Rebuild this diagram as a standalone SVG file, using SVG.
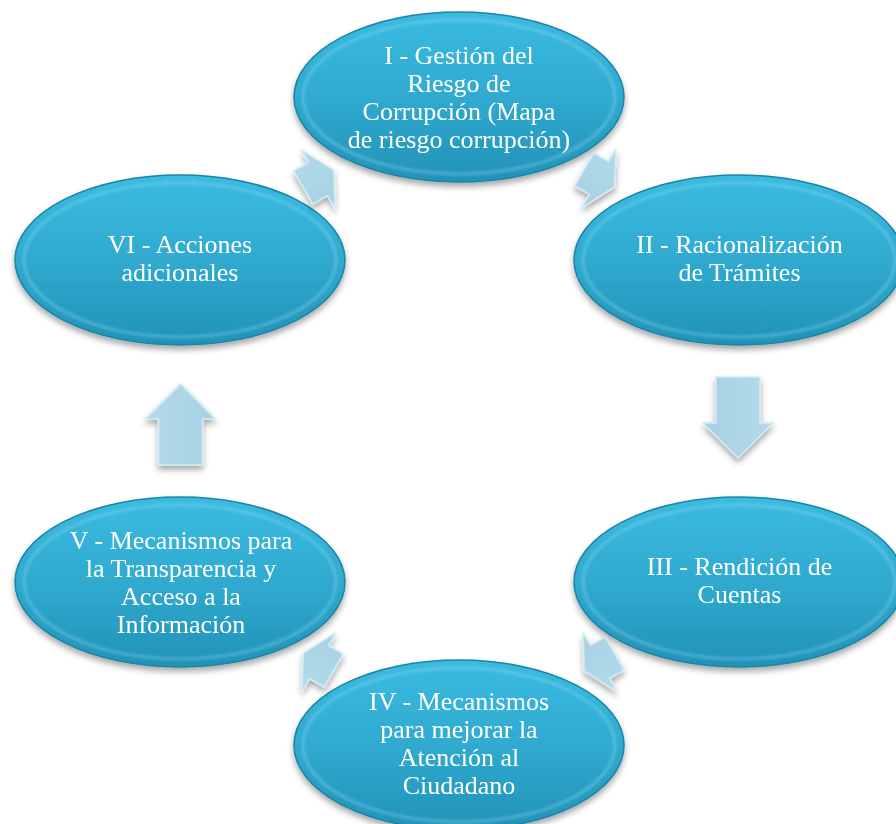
<svg xmlns="http://www.w3.org/2000/svg" width="896" height="824" viewBox="0 0 896 824">
  <defs>
    <linearGradient id="ellFill" x1="0" y1="0" x2="0" y2="1">
      <stop offset="0" stop-color="#3bbbe0"/>
      <stop offset="0.5" stop-color="#30aad0"/>
      <stop offset="1" stop-color="#2292b7"/>
    </linearGradient>
    <linearGradient id="arrFill" x1="0" y1="0" x2="0" y2="1">
      <stop offset="0" stop-color="#b3daea"/>
      <stop offset="1" stop-color="#a6d1e2"/>
    </linearGradient>
    <filter id="shadow" x="-20%" y="-20%" width="140%" height="150%">
      <feGaussianBlur in="SourceAlpha" stdDeviation="3"/>
      <feOffset dx="0" dy="4" result="b"/>
      <feComponentTransfer><feFuncA type="linear" slope="0.35"/></feComponentTransfer>
      <feMerge><feMergeNode/><feMergeNode in="SourceGraphic"/></feMerge>
    </filter>
    <filter id="soft" x="-10%" y="-10%" width="120%" height="120%">
      <feGaussianBlur stdDeviation="1.5"/>
    </filter>
    <path id="bigArrow" d="M -46,-22 L 0,-22 L 0,-35 L 35,0 L 0,35 L 0,22 L -46,22 Z"/>
    <path id="smallArrow" d="M -17,-19 L 0,-19 L 0,-34 L 18,0 L 0,34 L 0,19 L -17,19 Z"/>
  </defs>
  <style>
    .ell { fill: url(#ellFill); stroke: #1a84a5; stroke-width: 1.5; }
    .rim { fill: none; stroke: #8fdcf2; stroke-width: 2.5; opacity: 0.45; }
    .lbl { font-family: "Liberation Serif", "Times New Roman", serif; font-size: 26px; fill: #ffffff; text-anchor: middle; }
    .arr { fill: url(#arrFill); stroke: #d2ebf4; stroke-width: 1.5; stroke-linejoin: miter; }
  </style>
  <rect width="896" height="824" fill="#ffffff"/>

  <g id="node-I" filter="url(#shadow)">
    <ellipse class="ell" cx="459" cy="97" rx="165" ry="85"/>
    <ellipse class="rim" cx="459" cy="97" rx="156" ry="77" filter="url(#soft)"/>
    <text class="lbl" x="459" y="64">I - Gestión del</text>
    <text class="lbl" x="459" y="92">Riesgo de</text>
    <text class="lbl" x="459" y="120">Corrupción (Mapa</text>
    <text class="lbl" x="459" y="148">de riesgo corrupción)</text>
  </g>

  <g id="node-II" filter="url(#shadow)">
    <ellipse class="ell" cx="739" cy="260" rx="165" ry="85"/>
    <ellipse class="rim" cx="739" cy="260" rx="156" ry="77" filter="url(#soft)"/>
    <text class="lbl" x="739.5" y="253">II - Racionalización</text>
    <text class="lbl" x="739.5" y="281">de Trámites</text>
  </g>

  <g id="node-III" filter="url(#shadow)">
    <ellipse class="ell" cx="739" cy="582" rx="165" ry="85"/>
    <ellipse class="rim" cx="739" cy="582" rx="156" ry="77" filter="url(#soft)"/>
    <text class="lbl" x="739.5" y="575">III - Rendición de</text>
    <text class="lbl" x="739.5" y="603">Cuentas</text>
  </g>

  <g id="node-IV" filter="url(#shadow)">
    <ellipse class="ell" cx="459" cy="745" rx="165" ry="85"/>
    <ellipse class="rim" cx="459" cy="745" rx="156" ry="77" filter="url(#soft)"/>
    <text class="lbl" x="459" y="710">IV - Mecanismos</text>
    <text class="lbl" x="459" y="738">para mejorar la</text>
    <text class="lbl" x="459" y="766">Atención al</text>
    <text class="lbl" x="459" y="794">Ciudadano</text>
  </g>

  <g id="node-V" filter="url(#shadow)">
    <ellipse class="ell" cx="180" cy="582" rx="165" ry="85"/>
    <ellipse class="rim" cx="180" cy="582" rx="156" ry="77" filter="url(#soft)"/>
    <text class="lbl" x="181" y="549">V - Mecanismos para</text>
    <text class="lbl" x="181" y="577">la Transparencia y</text>
    <text class="lbl" x="181" y="605">Acceso a la</text>
    <text class="lbl" x="181" y="633">Información</text>
  </g>

  <g id="node-VI" filter="url(#shadow)">
    <ellipse class="ell" cx="180" cy="260" rx="165" ry="85"/>
    <ellipse class="rim" cx="180" cy="260" rx="156" ry="77" filter="url(#soft)"/>
    <text class="lbl" x="180" y="253">VI - Acciones</text>
    <text class="lbl" x="180" y="281">adicionales</text>
  </g>

  <g id="connectors" filter="url(#shadow)">
    <use href="#smallArrow" class="arr" transform="translate(599,178) rotate(30)"/>
    <use href="#bigArrow" class="arr" transform="translate(738,423) rotate(90)"/>
    <use href="#smallArrow" class="arr" transform="translate(600,662) rotate(150)"/>
    <use href="#smallArrow" class="arr" transform="translate(319,662) rotate(210)"/>
    <use href="#bigArrow" class="arr" transform="translate(180.5,419) rotate(-90)"/>
    <use href="#smallArrow" class="arr" transform="translate(318,179) rotate(-30)"/>
  </g>
</svg>
